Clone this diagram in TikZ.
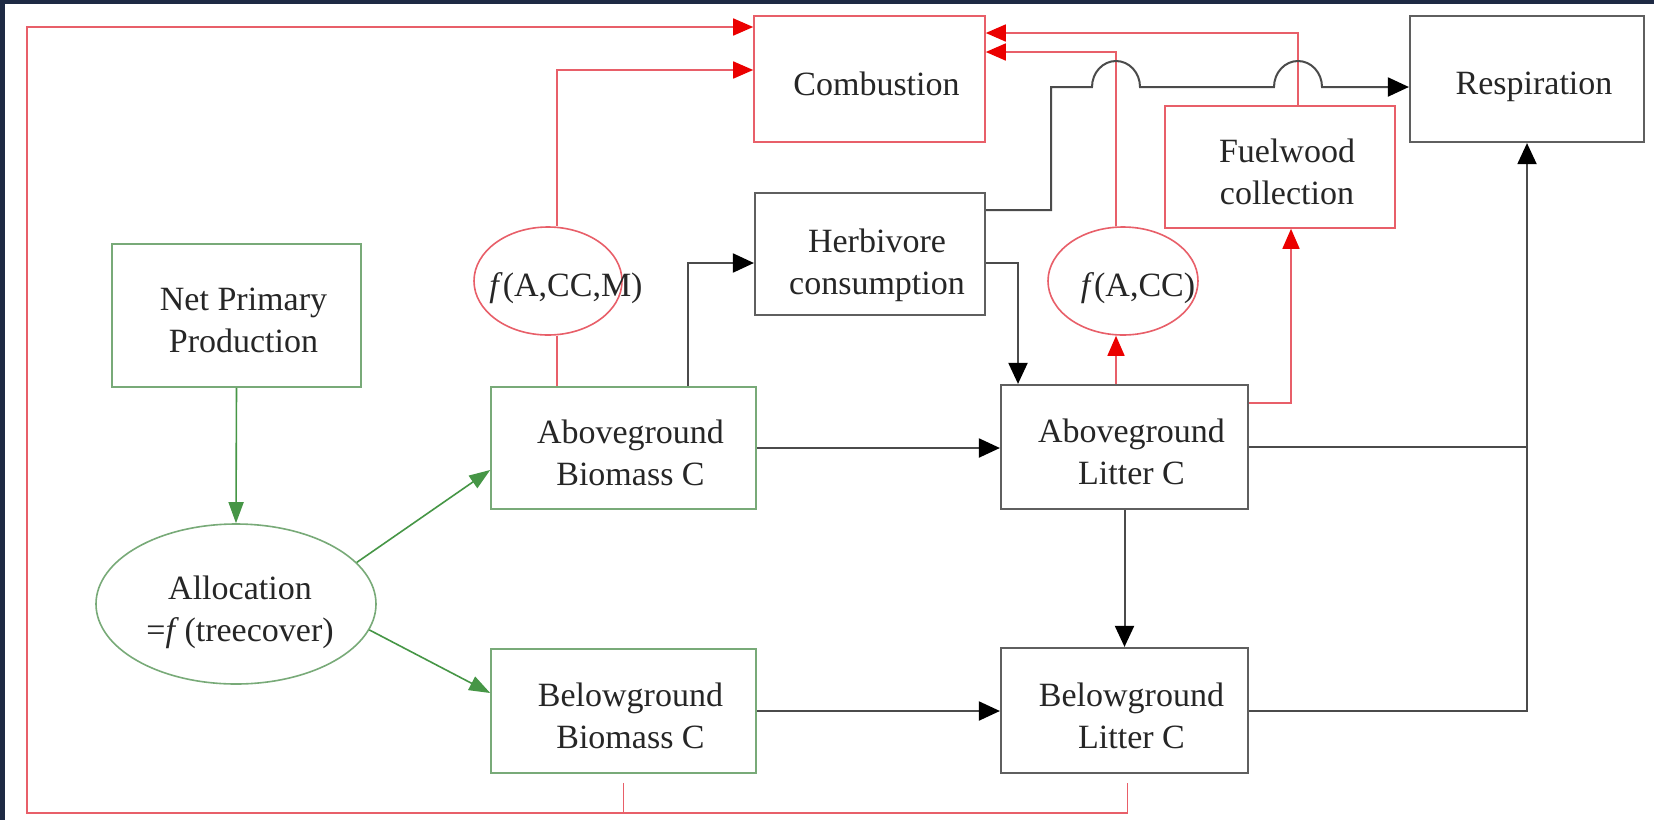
\documentclass[tikz,border=0pt]{standalone}
\usepackage{fontspec}
\setmainfont{Liberation Serif}
\usetikzlibrary{arrows.meta,shapes.geometric,calc}
\definecolor{rl}{RGB}{232,95,105}
\definecolor{rh}{RGB}{235,0,0}
\definecolor{gl}{RGB}{70,150,70}
\definecolor{gb}{RGB}{120,170,120}
\definecolor{kl}{RGB}{75,75,75}
\definecolor{kb}{RGB}{95,95,95}
\definecolor{framec}{RGB}{30,42,68}
\begin{document}
\begin{tikzpicture}[x=1pt,y=-1pt,
  every node/.style={font=\fontsize{34}{42}\selectfont, text=black!85, align=center},
  rbox/.style={draw=rl, line width=1.6pt, rectangle, inner sep=0pt},
  kbox/.style={draw=kb, line width=2.2pt, rectangle, inner sep=0pt},
  gbox/.style={draw=gb, line width=1.6pt, rectangle, inner sep=0pt},
  rell/.style={draw=rl, line width=1.6pt, ellipse, inner sep=0pt},
  gell/.style={draw=gb, line width=1.6pt, ellipse, inner sep=0pt},
  rline/.style={draw=rl, line width=1.6pt},
  rarr/.style={rline, -{Triangle[length=20pt,width=17pt,color=rh]}},
  kline/.style={draw=kl, line width=2pt},
  karr/.style={kline, -{Triangle[length=21pt,width=19pt,color=black]}},
  garr/.style={draw=gl, line width=1.6pt, -{Triangle[length=21pt,width=15pt]}},
  txt/.style={xshift=7pt, yshift=-5pt},
]
\useasboundingbox (0,0) rectangle (1654,820);
\fill[white] (0,0) rectangle (1654,820);
\fill[framec] (0,0) rectangle (5,820);
\fill[framec] (0,0) rectangle (1654,4);

% boxes
\node[rbox, minimum width=231pt, minimum height=126pt] (comb) at (869.5,79) {};
\node[kbox, minimum width=234pt, minimum height=126pt] (resp) at (1527,79) {};
\node[kbox, minimum width=230pt, minimum height=122pt] (herb) at (870,254) {};
\node[rbox, minimum width=230pt, minimum height=122pt] (fuel) at (1280,167) {};
\node[gbox, minimum width=249pt, minimum height=143pt] (npp) at (236.5,315.5) {};
\node[gbox, minimum width=265pt, minimum height=122pt] (ab) at (623.5,448) {};
\node[gbox, minimum width=265pt, minimum height=124pt] (bb) at (623.5,711) {};
\node[kbox, minimum width=247pt, minimum height=124pt] (al) at (1124.5,447) {};
\node[kbox, minimum width=247pt, minimum height=125pt] (bl) at (1124.5,710.5) {};

% box texts
\node[txt] (combtxt) at (comb.center) {Combustion};
\node[txt, yshift=-3pt] (resptxt) at (resp.center) {Respiration};
\node[txt, yshift=-6pt] (herbtxt) at (herb.center) {Herbivore\\consumption};
\node[txt] (fueltxt) at (fuel.center) {Fuelwood\\collection};
\node[txt] (npptxt) at (npp.center) {Net Primary\\Production};
\node[txt] (abtxt) at (ab.center) {Aboveground\\Biomass C};
\node[txt] (bbtxt) at (bb.center) {Belowground\\Biomass C};
\node[txt] (altxt) at (al.center) {Aboveground\\Litter C};
\node[txt] (bltxt) at (bl.center) {Belowground\\Litter C};

% ellipses
\node[gell, minimum width=280pt, minimum height=160pt] (alloc) at (236,604) {};
\node (alloctxt) at (240,612) {Allocation\\=\textit{f}\,(treecover)};
\node[rell, minimum width=148pt, minimum height=108pt] (facm) at (548,281) {};
\node (facmtxt) at (566,288) {\textit{f}(A,CC,M)};
\node[rell, minimum width=150pt, minimum height=108pt] (facc) at (1123,281) {};
\node (facctxt) at (1138,288) {\textit{f}(A,CC)};

% red connectors
\coordinate (lb) at (27,813);
\draw[rarr] ([yshift=-9pt]bb.south) |- (lb) |- ([yshift=52pt]comb.west);
\draw[rline] ([xshift=3pt,yshift=-9pt]bl.south) |- (bb.south |- lb);
\draw[rarr] ([xshift=9pt]facm.north) |- ([yshift=9pt]comb.west);
\draw[rline] ([xshift=9pt]facm.south) -- ([xshift=-66.5pt]ab.north);
\draw[rarr] ([xshift=-8.5pt]al.north) -- ([xshift=-7pt]facc.south);
\draw[rarr] ([xshift=-7pt]facc.north) |- ([yshift=27pt]comb.east);
\draw[rarr] ([xshift=18pt]fuel.north) |- ([yshift=46pt]comb.east);
\draw[rarr] ([yshift=44pt]al.east) -| ([xshift=11pt]fuel.south);

% black connectors
\coordinate (h1) at (1116,87);
\coordinate (h2) at (1298,87);
\draw[karr] ([yshift=44pt]herb.east) -- ++(65,0) |- ([xshift=-24pt]h1)
   arc[start angle=180,end angle=0,x radius=24pt,y radius=26pt]
   -- ([xshift=-24pt]h2)
   arc[start angle=180,end angle=0,x radius=24pt,y radius=26pt]
   -- ([yshift=-8pt]resp.west);
\draw[karr] ([xshift=64.5pt]ab.north) |- ([yshift=-9pt]herb.west);
\draw[karr] ([yshift=-9pt]herb.east) -| ([xshift=-106.5pt]al.north);
\draw[karr] (ab.east) -- (ab.east -| al.west);
\draw[karr] (bb.east) -- (bb.east -| bl.west);
\draw[karr] (al.south) -- (bl.north);
\draw[kline] (al.east) -- (al.east -| resp.south);
\draw[karr] (bl.east) -| (resp.south);

% green connectors
\draw[garr] (npp.south) -- (alloc.north);
\draw[garr] (alloc.19) -- ([yshift=-22pt]ab.west);
\draw[garr] (alloc.-11) -- ([yshift=18pt]bb.west);
\end{tikzpicture}
\end{document}
